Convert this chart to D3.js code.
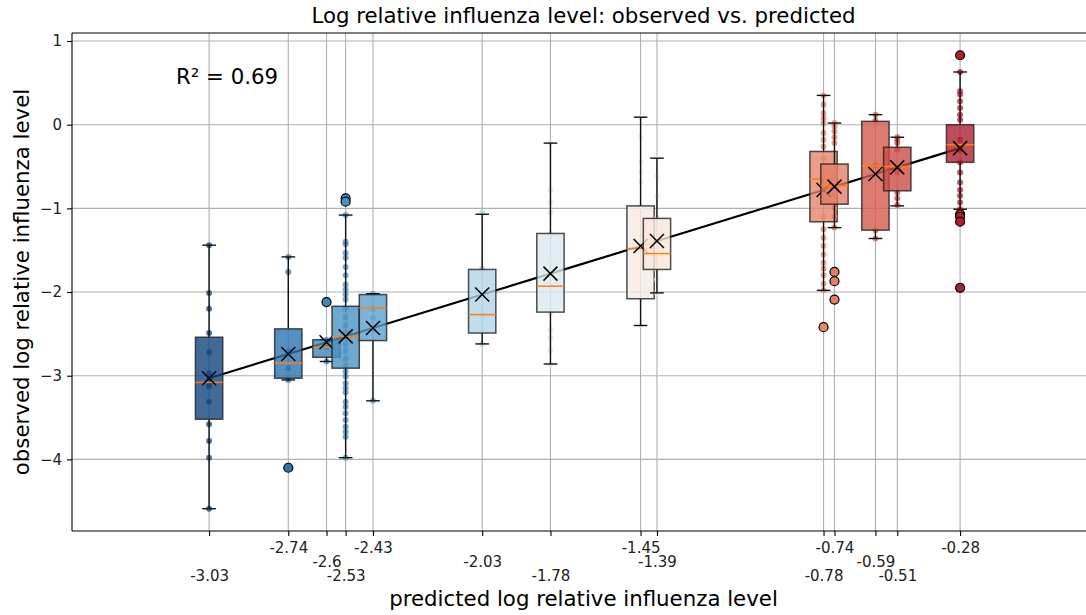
<!DOCTYPE html>
<html>
<head>
<meta charset="utf-8">
<script src="https://cdn.jsdelivr.net/npm/d3@7"></script>
<style>
  body { margin: 0; background: #fff; }
  svg { font-family: "DejaVu Sans", sans-serif; }
</style>
</head>
<body>
<div id="chart"></div>
<script>
// predicted level of each group (also the x tick values)
const predicted = [-3.03, -2.74, -2.6, -2.53, -2.43, -2.03, -1.78, -1.45, -1.39, -0.78, -0.74, -0.59, -0.51, -0.28];

// box stats
const whiskerHigh = [-1.44, -1.58, -2.57, -1.08, -2.02, -1.07, -0.22, 0.09, -0.40, 0.35, 0.02, 0.12, -0.15, 0.63];
const q3 = [-2.54, -2.44, -2.57, -2.17, -2.03, -1.73, -1.30, -0.97, -1.12, -0.32, -0.47, 0.04, -0.27, 0.00];
const medians = [-3.08, -2.85, -2.66, -2.53, -2.19, -2.27, -1.93, -1.48, -1.54, -0.65, -0.73, -0.49, -0.50, -0.24];
const q1 = [-3.52, -3.03, -2.78, -2.91, -2.58, -2.49, -2.24, -2.08, -1.73, -1.16, -0.95, -1.26, -0.79, -0.45];
const whiskerLow = [-4.59, -3.05, -2.83, -3.98, -3.30, -2.62, -2.86, -2.40, -2.01, -1.98, -1.23, -1.36, -0.97, -1.01];
const outliers = [[], [-4.10], [-2.12], [-0.88, -0.92], [], [], [], [], [], [-2.42], [-1.76, -1.87, -2.09], [], [], [0.83, -1.07, -1.10, -1.16, -1.95]];

// observed values of each group (strip points)
const observed = [
  [-1.44, -2.01, -2.2, -2.49, -2.72, -2.97, -3.03, -3.1, -3.13, -3.31, -3.58, -3.78, -3.98, -4.59],
  [-1.58, -1.76, -2.71, -2.91, -3.05, -4.1],
  [-2.57, -2.66, -2.83, -2.12],
  [-0.88, -0.92, -1.08, -1.4, -1.43, -1.53, -1.59, -1.7, -1.8, -1.91, -1.97, -2.03, -2.09, -2.2, -2.3, -2.4, -2.48, -2.55, -2.62, -2.7, -2.8, -2.88, -2.95, -3.01, -3.09, -3.15, -3.2, -3.31, -3.37, -3.45, -3.53, -3.61, -3.67, -3.73, -3.98],
  [-2.02, -2.2, -2.31, -2.45, -3.3],
  [-1.05, -1.72, -2.27, -2.45, -2.62],
  [-0.22, -0.78, -0.93, -1.05, -1.3, -1.62, -1.93, -2.25, -2.45, -2.55, -2.7, -2.86],
  [0.09, -0.14, -0.45, -0.56, -0.68, -0.97, -1.47, -2.08, -2.4],
  [-0.4, -0.62, -0.86, -1.12, -1.54, -1.73, -1.85, -2.01],
  [0.35, 0.24, 0.14, 0.08, 0.02, -0.1, -0.18, -0.26, -0.4, -0.65, -0.9, -1.1, -1.25, -1.35, -1.45, -1.55, -1.65, -1.72, -1.8, -1.9, -1.98, -2.42],
  [0.02, -0.02, -0.08, -0.15, -0.22, -0.6, -0.85, -1.0, -1.1, -1.23, -1.76, -1.87, -2.09],
  [0.12, 0.05, -0.49, -1.26, -1.36],
  [-0.15, -0.18, -0.22, -0.3, -0.57, -0.81, -0.88, -0.96],
  [0.83, 0.63, 0.4, 0.36, 0.28, 0.2, 0.12, 0.06, -0.18, -0.3, -0.45, -0.57, -0.69, -0.78, -0.85, -0.93, -1.01, -1.07, -1.1, -1.16, -1.95]
];

const yTicks = [1, 0, -1, -2, -3, -4];
const rSquared = 0.69;

const width = 1086, height = 615;
const margin = {top: 33, right: -9, bottom: 84, left: 72};

const x = d3.scaleLinear().domain([-3.532, 0.214]).range([margin.left, width - margin.right]);
const y = d3.scaleLinear().domain([1.096, -4.856]).range([margin.top, height - margin.bottom]);

// RdBu reversed, blue for low predictions
const colorT = d3.scaleLinear().domain([-3.16, 0.04]).range([1, 0]);
function color(p) { return d3.interpolateRdBu(colorT(p)); }

const boxHalf = 0.05, capHalf = 0.025;
const bigFont = "21.3px", tickFont = "15px";

function createChart() {
  const svg = d3.select("#chart").append("svg")
      .attr("width", width)
      .attr("height", height);

  const x0 = x.range()[0], x1 = x.range()[1];
  const y0 = y.range()[0], y1 = y.range()[1];

  // grid
  const grid = svg.append("g");
  grid.selectAll("line.vx").data(predicted).enter().append("line")
      .attr("x1", d => x(d)).attr("x2", d => x(d))
      .attr("y1", y0).attr("y2", y1)
      .attr("stroke", "#b0b0b0").attr("stroke-width", 1.1);
  grid.selectAll("line.hy").data(yTicks).enter().append("line")
      .attr("x1", x0).attr("x2", x1)
      .attr("y1", d => y(d)).attr("y2", d => y(d))
      .attr("stroke", "#b0b0b0").attr("stroke-width", 1.1);

  // line through the predicted points
  const line = d3.line()
      .x(d => x(d))
      .y(d => y(d));
  svg.append("path")
      .attr("d", line(predicted))
      .attr("fill", "none")
      .attr("stroke", "black")
      .attr("stroke-width", 2.2);

  const groups = svg.selectAll("g.group")
      .data(predicted)
      .enter()
      .append("g")
      .attr("class", "group");

  // strip points (under the boxes)
  groups.each(function(p, i) {
    d3.select(this).selectAll("circle.pt")
        .data(observed[i])
        .enter().append("circle")
        .attr("cx", x(p))
        .attr("cy", d => y(d))
        .attr("r", 3)
        .attr("fill", color(p))
        .attr("fill-opacity", 0.75);
  });

  groups.each(function(p, i) {
    const g = d3.select(this);
    // whiskers
    g.append("line")
        .attr("x1", x(p)).attr("x2", x(p))
        .attr("y1", y(whiskerHigh[i])).attr("y2", y(q3[i]))
        .attr("stroke", "#111").attr("stroke-width", 1.4);
    g.append("line")
        .attr("x1", x(p)).attr("x2", x(p))
        .attr("y1", y(q1[i])).attr("y2", y(whiskerLow[i]))
        .attr("stroke", "#111").attr("stroke-width", 1.4);
    [whiskerHigh[i], whiskerLow[i]].forEach(function(v) {
      g.append("line")
          .attr("x1", x(p - capHalf)).attr("x2", x(p + capHalf))
          .attr("y1", y(v)).attr("y2", y(v))
          .attr("stroke", "#111").attr("stroke-width", 1.4);
    });
    // box
    g.append("rect")
        .attr("x", x(p - boxHalf))
        .attr("width", x(p + boxHalf) - x(p - boxHalf))
        .attr("y", y(q3[i]))
        .attr("height", y(q1[i]) - y(q3[i]))
        .attr("fill", color(p))
        .attr("fill-opacity", 0.8)
        .attr("stroke", "#222")
        .attr("stroke-opacity", 0.8)
        .attr("stroke-width", 1.5);
    // median
    g.append("line")
        .attr("x1", x(p - boxHalf)).attr("x2", x(p + boxHalf))
        .attr("y1", y(medians[i])).attr("y2", y(medians[i]))
        .attr("stroke", "#ff7f0e").attr("stroke-width", 1.5);
    // outliers
    g.selectAll("circle.out")
        .data(outliers[i])
        .enter().append("circle")
        .attr("cx", x(p))
        .attr("cy", d => y(d))
        .attr("r", 4.5)
        .attr("fill", color(p))
        .attr("stroke", "black")
        .attr("stroke-width", 1.2);
  });

  // X markers at the predicted value
  const s = 7;
  groups.append("path")
      .attr("d", p => "M" + (x(p) - s) + "," + (y(p) - s) + "L" + (x(p) + s) + "," + (y(p) + s)
                    + "M" + (x(p) - s) + "," + (y(p) + s) + "L" + (x(p) + s) + "," + (y(p) - s))
      .attr("stroke", "black")
      .attr("stroke-width", 1.5)
      .attr("fill", "none");

  // y axis
  const yAxis = d3.axisLeft(y).tickValues(yTicks).tickSize(5).tickPadding(5)
      .tickFormat(d3.format("d"));
  const gy = svg.append("g")
      .attr("transform", "translate(" + x0 + ",0)")
      .call(yAxis);
  gy.select(".domain").remove();
  gy.selectAll("text").attr("font-size", tickFont).attr("font-family", "DejaVu Sans").attr("fill", "#222");
  gy.selectAll("line").attr("stroke-width", 1.1);

  // x axis, labels staggered in three rows
  const xAxis = d3.axisBottom(x).tickValues(predicted).tickSize(5)
      .tickFormat(d => String(d));
  const gx = svg.append("g")
      .attr("transform", "translate(0," + y1 + ")")
      .call(xAxis);
  gx.select(".domain").remove();
  gx.selectAll("line").attr("stroke-width", 1.1);
  gx.selectAll("text")
      .attr("font-size", tickFont)
      .attr("font-family", "DejaVu Sans")
      .attr("fill", "#222")
      .attr("y", (d, i) => i % 3 === 1 ? 11 : (i % 3 === 2 ? 25 : 39));

  // spines
  svg.append("line").attr("x1", x0).attr("x2", x0).attr("y1", y0).attr("y2", y1)
      .attr("stroke", "black").attr("stroke-width", 1.1);
  svg.append("line").attr("x1", x0).attr("x2", x1).attr("y1", y0).attr("y2", y0)
      .attr("stroke", "black").attr("stroke-width", 1.1);
  svg.append("line").attr("x1", x0).attr("x2", x1).attr("y1", y1).attr("y2", y1)
      .attr("stroke", "black").attr("stroke-width", 1.1);

  // texts
  svg.append("text")
      .attr("x", (x0 + x1) / 2)
      .attr("y", 23)
      .attr("text-anchor", "middle")
      .attr("font-size", bigFont)
      .text("Log relative influenza level: observed vs. predicted");

  svg.append("text")
      .attr("x", (x0 + x1) / 2)
      .attr("y", 606)
      .attr("text-anchor", "middle")
      .attr("font-size", bigFont)
      .text("predicted log relative influenza level");

  svg.append("text")
      .attr("transform", "rotate(-90)")
      .attr("x", -(y0 + y1) / 2)
      .attr("y", 29)
      .attr("text-anchor", "middle")
      .attr("font-size", bigFont)
      .text("observed log relative influenza level");

  svg.append("text")
      .attr("x", 176)
      .attr("y", 84)
      .attr("font-size", bigFont)
      .text("R² = " + rSquared.toFixed(2));
}

createChart();
</script>
</body>
</html>
